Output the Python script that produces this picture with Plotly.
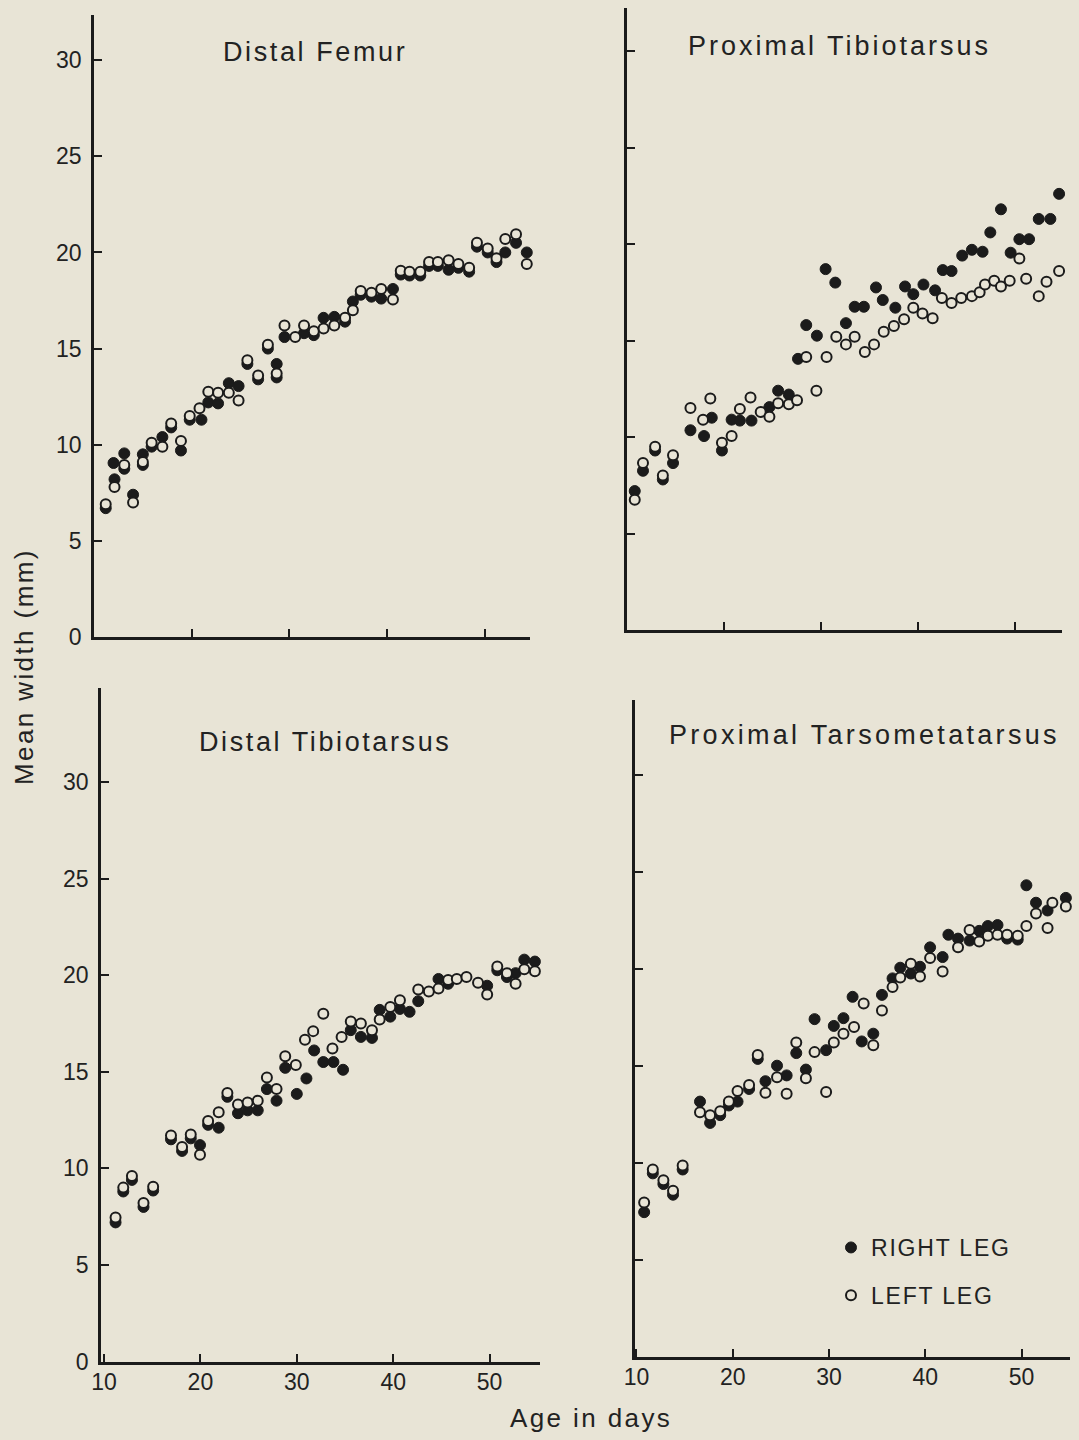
import plotly.graph_objects as go

# ---------------- data ----------------
panel_titles = ["Distal Femur", "Proximal Tibiotarsus", "Distal Tibiotarsus", "Proximal Tarsometatarsus"]
x_tick_vals = [10, 20, 30, 40, 50]
x_tick_text = ["10", "20", "30", "40", "50"]
y_tick_vals = [0, 5, 10, 15, 20, 25, 30]
y_tick_text = ["0", "5", "10", "15", "20", "25", "30"]

# Distal Femur
femur_right_days = [11.2, 12.0, 12.1, 13.1, 13.1, 14.0, 15.0, 15.0, 15.9, 17.0, 17.9, 18.9, 19.8, 21.0, 21.7, 22.7, 23.8, 24.8,
                    25.7, 26.8, 27.8, 28.7, 28.7, 29.5, 31.5, 32.5, 33.5, 34.6, 35.7, 36.5, 37.3, 38.4, 39.4, 40.6, 41.4,
                    42.3, 43.4, 44.3, 45.2, 46.3, 47.3, 48.4, 49.2, 50.3, 51.2, 52.1, 53.2, 54.3, 55.3]
femur_right_vals = [6.7, 9.05, 8.2, 9.55, 8.75, 7.4, 9.5, 8.95, 9.9, 10.4, 10.9, 9.7, 11.3, 11.3, 12.2, 12.15, 13.2, 13.05,
                    14.2, 13.4, 15.0, 14.2, 13.5, 15.6, 15.8, 15.7, 16.6, 16.65, 16.4, 17.45, 17.8, 17.7, 17.6, 18.1, 18.85,
                    18.8, 18.8, 19.3, 19.3, 19.1, 19.2, 19.0, 20.3, 20.0, 19.5, 20.0, 20.5, 20.0, 19.85]
femur_left_days = [11.2, 12.1, 13.1, 14.0, 15.0, 15.9, 17.0, 17.9, 18.9, 19.8, 20.8, 21.7, 22.7, 23.8, 24.8, 25.7, 26.8,
                   27.8, 28.7, 29.5, 30.6, 31.5, 32.5, 33.5, 34.6, 35.7, 36.5, 37.3, 38.4, 39.4, 40.6, 41.4, 42.3, 43.4,
                   44.3, 45.2, 46.3, 47.3, 48.4, 49.2, 50.3, 51.2, 52.1, 53.2, 54.3, 55.3]
femur_left_vals = [6.9, 7.8, 8.95, 7.0, 9.1, 10.1, 9.9, 11.1, 10.2, 11.5, 11.9, 12.75, 12.7, 12.7, 12.3, 14.4, 13.6,
                   15.2, 13.7, 16.2, 15.6, 16.2, 15.9, 16.05, 16.2, 16.6, 17.0, 18.0, 17.9, 18.1, 17.55, 19.05, 19.0, 19.0,
                   19.5, 19.5, 19.6, 19.4, 19.2, 20.5, 20.2, 19.7, 20.7, 20.95, 19.4, 20.05]

# Proximal Tibiotarsus
ptibio_right_days = [10.8, 11.65, 12.9, 13.7, 14.75, 16.55, 17.95, 18.75, 19.8, 20.8, 21.65, 22.85, 24.7, 25.6, 26.7,
                     27.65, 28.5, 29.6, 30.5, 31.5, 32.6, 33.5, 34.45, 35.7, 36.4, 37.7, 38.7, 39.55, 40.6, 41.8, 42.6,
                     43.5, 44.6, 45.6, 46.7, 47.5, 48.6, 49.6, 50.5, 51.5, 52.5, 53.7, 54.6]
ptibio_right_vals = [7.2, 8.25, 9.3, 7.8, 8.65, 10.35, 10.05, 11.0, 9.3, 10.9, 10.85, 10.85, 11.55, 12.4, 12.2,
                     14.05, 15.8, 15.25, 18.7, 18.0, 15.9, 16.75, 16.75, 17.75, 17.1, 16.7, 17.8, 17.4, 17.9, 17.6, 18.65,
                     18.6, 19.4, 19.7, 19.6, 20.6, 21.8, 19.55, 20.25, 20.25, 21.3, 21.3, 22.6]
ptibio_left_days = [10.8, 11.65, 12.9, 13.7, 14.75, 16.55, 17.85, 18.6, 19.8, 20.8, 21.65, 22.75, 23.8, 24.7, 25.6, 26.7,
                    27.55, 28.5, 29.55, 30.6, 31.6, 32.6, 33.5, 34.55, 35.5, 36.5, 37.55, 38.6, 39.55, 40.5, 41.55, 42.5,
                    43.5, 44.5, 45.6, 46.4, 46.95, 47.9, 48.6, 49.5, 50.5, 51.2, 52.5, 53.3, 54.6]
ptibio_left_vals = [6.75, 8.65, 9.5, 8.0, 9.05, 11.5, 10.9, 12.0, 9.7, 10.05, 11.45, 12.05, 11.3, 11.05, 11.75, 11.7,
                    11.9, 14.15, 12.4, 14.15, 15.2, 14.8, 15.2, 14.4, 14.8, 15.45, 15.75, 16.1, 16.7, 16.4, 16.15, 17.2,
                    16.95, 17.2, 17.3, 17.5, 17.9, 18.1, 17.8, 18.1, 19.25, 18.2, 17.3, 18.05, 18.6]

# Distal Tibiotarsus
dtibio_right_days = [11.2, 12.0, 12.9, 14.1, 15.1, 16.95, 18.1, 19.0, 19.96, 20.8, 21.9, 22.8, 23.9, 24.9, 25.95, 26.9,
                     27.9, 28.8, 30.0, 31.0, 31.8, 32.75, 33.8, 34.8, 35.6, 36.65, 37.8, 38.6, 39.7, 40.7, 41.7, 42.6,
                     44.7, 45.7, 49.75, 50.8, 51.8, 52.7, 53.6, 54.7, 55.7, 56.8]
dtibio_right_vals = [7.2, 8.8, 9.4, 8.0, 8.85, 11.5, 10.9, 11.55, 11.2, 12.25, 12.1, 13.7, 12.85, 13.0, 13.0, 14.1,
                     13.5, 15.2, 13.85, 14.65, 16.1, 15.5, 15.5, 15.1, 17.15, 16.8, 16.75, 18.2, 17.85, 18.25, 18.1, 18.65,
                     19.8, 19.55, 19.45, 20.25, 19.9, 20.1, 20.8, 20.7, 19.2, 20.2]
dtibio_left_days = [11.2, 12.0, 12.9, 14.1, 15.1, 16.95, 18.1, 19.0, 19.96, 20.8, 21.9, 22.8, 23.9, 24.9, 25.95, 26.9,
                    27.9, 28.8, 29.9, 30.85, 31.7, 32.75, 33.7, 34.65, 35.6, 36.65, 37.8, 38.6, 39.7, 40.7, 42.6, 43.7,
                    44.7, 45.7, 46.6, 47.6, 48.8, 49.75, 50.8, 51.8, 52.7, 53.6, 54.7, 55.7, 56.8]
dtibio_left_vals = [7.45, 9.0, 9.6, 8.2, 9.05, 11.7, 11.1, 11.75, 10.7, 12.45, 12.9, 13.9, 13.3, 13.4, 13.5, 14.7,
                    14.1, 15.8, 15.35, 16.65, 17.1, 18.0, 16.2, 16.8, 17.6, 17.5, 17.15, 17.7, 18.35, 18.7, 19.25, 19.15,
                    19.3, 19.75, 19.8, 19.9, 19.6, 19.0, 20.45, 20.1, 19.55, 20.3, 20.2, 19.7, 20.4]

# Proximal Tarsometatarsus
ptarso_right_days = [10.8, 11.7, 12.8, 13.8, 14.8, 16.6, 17.65, 18.7, 19.6, 20.5, 21.7, 22.6, 23.4, 24.6, 25.6, 26.6,
                     27.6, 28.5, 29.7, 30.5, 31.5, 32.45, 33.4, 34.6, 35.5, 36.6, 37.4, 38.5, 39.45, 40.5, 41.8, 42.4,
                     43.4, 44.6, 45.6, 46.5, 47.5, 48.5, 49.6, 50.5, 51.5, 52.7, 54.6]
ptarso_right_vals = [7.45, 9.45, 8.9, 8.35, 9.65, 13.15, 12.05, 12.45, 12.95, 13.15, 13.8, 15.35, 14.2, 15.0, 14.5, 15.65,
                     14.8, 17.4, 15.8, 17.05, 17.45, 18.55, 16.25, 16.65, 18.65, 19.5, 20.05, 19.75, 20.1, 21.1, 20.6, 21.75,
                     21.55, 21.45, 21.95, 22.2, 22.25, 21.55, 21.5, 24.3, 23.4, 23.0, 23.65]
ptarso_left_days = [10.8, 11.7, 12.8, 13.8, 14.8, 16.6, 17.65, 18.7, 19.6, 20.5, 21.7, 22.6, 23.4, 24.6, 25.6, 26.6,
                    27.6, 28.5, 29.7, 30.5, 31.5, 32.6, 33.6, 34.6, 35.5, 36.6, 37.4, 38.5, 39.45, 40.5, 41.8, 43.4,
                    44.6, 45.6, 46.5, 47.5, 48.5, 49.6, 50.5, 51.5, 52.7, 53.2, 54.6]
ptarso_left_vals = [7.95, 9.65, 9.1, 8.55, 9.85, 12.6, 12.45, 12.65, 13.15, 13.7, 14.0, 15.55, 13.6, 14.4, 13.55, 16.2,
                    14.35, 15.7, 13.65, 16.2, 16.65, 17.0, 18.2, 16.05, 17.85, 19.05, 19.55, 20.25, 19.6, 20.55, 19.85, 21.1,
                    22.0, 21.4, 21.7, 21.75, 21.75, 21.7, 22.2, 22.85, 22.1, 23.4, 23.2]

panels = [
    (femur_right_days, femur_right_vals, femur_left_days, femur_left_vals),
    (ptibio_right_days, ptibio_right_vals, ptibio_left_days, ptibio_left_vals),
    (dtibio_right_days, dtibio_right_vals, dtibio_left_days, dtibio_left_vals),
    (ptarso_right_days, ptarso_right_vals, ptarso_left_days, ptarso_left_vals),
]

# ---------------- layout geometry ----------------
W, H = 1079, 1440
BG = "#E8E4D6"
INK = "#1b1b1b"
TXT = "#222222"
FONT = "Liberation Sans, Arial, Helvetica, sans-serif"


def spaced(s, px):
    return '<span style="letter-spacing:%.1fpx">%s</span>' % (px, s)


# pixel boxes: left, right, top, bottom ; axis ranges
boxes = [
    dict(l=94, r=530, t=15, b=637, xr=[10, 54.63], yr=[0, 32.35], xl=False, yl=True),
    dict(l=627, r=1062, t=8, b=630, xr=[10, 54.9], yr=[0, 32.23], xl=False, yl=False),
    dict(l=101, r=540, t=688, b=1361.5, xr=[9.69, 55.23], yr=[0, 34.86], xl=True, yl=True),
    dict(l=635, r=1070, t=700, b=1356.7, xr=[9.85, 55.03], yr=[0, 33.85], xl=True, yl=False),
]

fig = go.Figure()

for i, (rd, rv, ld, lv) in enumerate(panels):
    n = "" if i == 0 else str(i + 1)
    show = (i == 3)
    fig.add_trace(go.Scatter(
        x=rd, y=rv, mode="markers", name=spaced("RIGHT LEG", 1.8), showlegend=show, legendgroup="r",
        xaxis="x" + n, yaxis="y" + n, cliponaxis=False,
        marker=dict(symbol="circle", size=11, color=INK, line=dict(color=INK, width=1)),
    ))
    fig.add_trace(go.Scatter(
        x=ld, y=lv, mode="markers", name=spaced("LEFT LEG", 1.8), showlegend=show, legendgroup="l",
        xaxis="x" + n, yaxis="y" + n, cliponaxis=False,
        marker=dict(symbol="circle", size=10, color=BG, line=dict(color=INK, width=2)),
    ))

layout = dict(
    width=W, height=H,
    margin=dict(l=0, r=0, t=0, b=0, autoexpand=False),
    paper_bgcolor=BG, plot_bgcolor=BG,
    font=dict(family=FONT, color=TXT, size=20),
    legend=dict(x=831 / W, y=1 - 1226 / H, xanchor="left", yanchor="top",
                bgcolor="rgba(0,0,0,0)", font=dict(size=23, color=TXT, family=FONT),
                tracegroupgap=15, itemwidth=30),
)

axis_common = dict(showline=True, linecolor=INK, linewidth=2.5, ticks="inside", ticklen=8,
                   tickwidth=2, tickcolor=INK, showgrid=False, zeroline=False, automargin=False,
                   tickfont=dict(size=23, color=TXT, family=FONT))

for i, bx in enumerate(boxes):
    n = "" if i == 0 else str(i + 1)
    layout["xaxis" + n] = dict(
        axis_common, domain=[bx["l"] / W, bx["r"] / W], range=bx["xr"], anchor="y" + n,
        tickvals=x_tick_vals, ticktext=x_tick_text, showticklabels=bx["xl"], ticklabelstandoff=-2,
    )
    layout["yaxis" + n] = dict(
        axis_common, domain=[1 - bx["b"] / H, 1 - bx["t"] / H], range=bx["yr"], anchor="x" + n,
        tickvals=y_tick_vals, ticktext=y_tick_text, showticklabels=bx["yl"], ticklabelstandoff=5,
    )

fig.update_layout(**layout)

title_pos = [(315, 52), (839, 46), (325, 742), (864, 735)]
title_spacing = [2.6, 3.0, 2.6, 3.3]
for (px, py), t, sp in zip(title_pos, panel_titles, title_spacing):
    fig.add_annotation(text=spaced(t, sp), x=px / W, y=1 - py / H, xref="paper", yref="paper",
                       showarrow=False, xanchor="center", yanchor="middle",
                       font=dict(size=27, family=FONT, color=TXT))

fig.add_annotation(text=spaced("Mean width (mm)", 2.4), x=24 / W, y=1 - 667 / H, xref="paper", yref="paper",
                   showarrow=False, textangle=-90, xanchor="center", yanchor="middle",
                   font=dict(size=26, family=FONT, color=TXT))
fig.add_annotation(text=spaced("Age in days", 2.4), x=591 / W, y=1 - 1418 / H, xref="paper", yref="paper",
                   showarrow=False, xanchor="center", yanchor="middle",
                   font=dict(size=26, family=FONT, color=TXT))

fig.write_html("out.html")
